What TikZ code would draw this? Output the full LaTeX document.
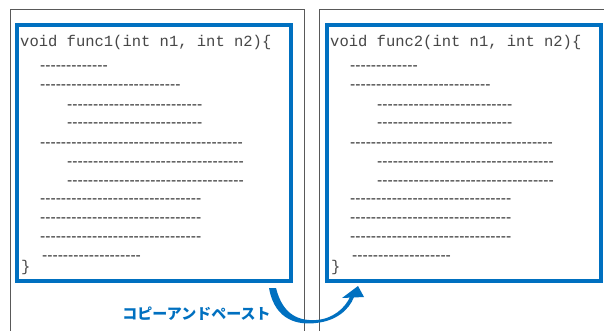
\documentclass[tikz,border=0pt]{standalone}
\usepackage{fontspec}
\setmonofont{Liberation Mono}
\newfontfamily\dashfont{Liberation Sans}
\newfontfamily\jpfont{Noto Sans CJK JP}
\definecolor{msblue}{HTML}{0070C0}
\definecolor{framegray}{HTML}{595959}
\newcommand\hyphrow[1]{\foreach \k in {1,...,#1}{-\kern0pt}}
\begin{document}
\begin{tikzpicture}[x=1pt,y=-1pt,
  code/.style={anchor=base west, inner sep=0pt, font=\ttfamily\fontsize{15.5}{15.5}\selectfont, text=black!72},
  dl/.style={anchor=base west, inner sep=0pt, font=\dashfont\fontsize{15.6}{15.6}\selectfont, text=black!80},
  bluebox/.style={draw=msblue, line width=3.5pt},
  frame/.style={draw=framegray, line width=1pt},
  jplabel/.style={font=\jpfont\bfseries\fontsize{15}{15}\selectfont, text=msblue, inner sep=0pt}]
\useasboundingbox (0,0) rectangle (604,331);
\clip (0,0) rectangle (604,331);
\fill[white] (0,0) rectangle (604,331);
% outer frames
\draw[frame] (10,340) -- (10,10) -- (304,10) -- (304,340);
\draw[frame] (319,340) -- (319,10) -- (620,10);
\foreach \ox/\n in {0/1,310/2}{
  \draw[bluebox] (17+\ox,25) rectangle (291+\ox,281);
  \node[code] (sig\n) at (20+\ox,47) {void func\n(int n1, int n2)\{};
  \foreach \dx/\dy/\c [count=\i] in {40/67/13, 40/86/27, 67/106/26, 67/124/26, 40/143/39, 67/162/34, 67/181/34, 40/199/31, 40/218/31, 40/237/31, 42/256/19}{
    \node[dl] (d\n-\i) at (\dx+\ox,\dy+4) {\hyphrow{\c}};
  }
  \node[code] (close\n) at (21+\ox,271) {\}};
}
% label
\node[jplabel] (label) at (196.5,314) {コピーアンドペースト};
% curved arrow
\fill[msblue] (269,288) .. controls (275,322) and (300,325) .. (316,323)
  .. controls (336,321) and (349,310) .. (354,297) -- (350,297)
  .. controls (345,308) and (333,319) .. (316,320)
  .. controls (300,321) and (283,316) .. (276,288) -- cycle;
\fill[msblue] (342,298) -- (358,286) -- (364,297) -- cycle;
\end{tikzpicture}
\end{document}
